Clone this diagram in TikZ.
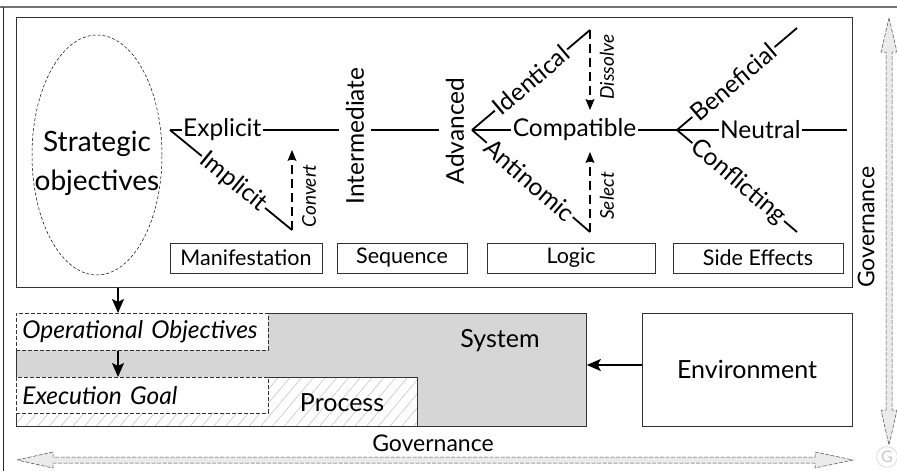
\documentclass[tikz,border=0pt]{standalone}
\usepackage{fontspec}
\setmainfont{Lato}
\usetikzlibrary{arrows.meta,patterns.meta,shapes.geometric,calc}
\newcommand{\fs}[1]{\fontsize{#1}{#1}\selectfont}
\begin{document}
\begin{tikzpicture}[x=1pt,y=-1pt,
  bone/.style={line width=1.8pt},
  lbl/.style={fill=white, inner sep=1.5pt, font=\fs{24.5}},
  vlbl/.style={rotate=90, inner sep=7pt, font=\fs{24.5}},
  hint/.style={rotate=90, inner sep=1pt, font=\fs{19}\itshape},
  conv/.style={line width=1.2pt, dash pattern=on 9pt off 5pt,
    -{Stealth[length=11pt,width=9pt,inset=2pt]}},
  flow/.style={line width=1.8pt, -{Stealth[length=14pt,width=12pt,inset=3pt]}},
  catbox/.style={draw=black!80, line width=0.8pt, minimum height=30pt,
    inner sep=0pt, font=\fs{21.5}},
  plain/.style={draw=black!80, line width=0.8pt, inner sep=0pt},
  goalbox/.style={draw=black!80, fill=white, line width=0.7pt,
    dash pattern=on 4pt off 2pt, inner sep=6pt, align=left,
    font=\fs{24.5}\itshape, anchor=north west},
  govarrow/.style={fill=black!8, draw=black!70, line width=0.5pt,
    dash pattern=on 4pt off 1.5pt},
]
\useasboundingbox (0,0) rectangle (897,471);

% cropped page frame
\draw[black!55, line width=1.2pt] (0,7) -- (897,7);
\draw[black!85, line width=0.9pt] (3,7) -- (3,471);

% upper panel
\node[plain, minimum width=836pt, minimum height=270pt, anchor=north west]
  (top) at (16,17) {};
\node[draw, ellipse, line width=0.5pt, dash pattern=on 3pt off 2pt,
  minimum width=130pt, minimum height=240pt, inner sep=0pt] (so) at (97,155) {};
\node[align=center, inner sep=0pt, font={\fontsize{28}{39}\selectfont}]
  (sotxt) at ([yshift=-8pt]so.center) {Strategic\\objectives};

% manifestation branch
\coordinate (v1) at (170,130);
\coordinate (imp) at (292,230);
\coordinate (convtip) at (292,150);
\node[vlbl] (inter) at (355,136) {Intermediate};
\node[vlbl] (adv) at (455,131) {Advanced};
\draw[bone] (v1) -- node[lbl, pos=0.31] {Explicit} (inter.north |- v1);
\draw[bone] (v1) -- node[lbl, sloped, pos=0.52] {Implicit} (imp);
\draw[conv] (imp) -- (convtip);
\node[hint] (convlbl) at (309,196) {Convert};
\draw[bone] (inter.south |- v1) -- (adv.north |- v1);

% logic branch
\coordinate (v2) at (472,130);
\coordinate (ide) at (590,30);
\coordinate (ant) at (590,232);
\coordinate (dtip) at (590,110);
\coordinate (stip) at (590,152);
\coordinate (v3) at (677,130);
\draw[bone] (v2) -- node[lbl, sloped, pos=0.5] {Identical} (ide);
\draw[bone] (v2) -- node[lbl, pos=0.5] {Compatible} (v3);
\draw[bone] (v2) -- node[lbl, sloped, pos=0.49] {Antinomic} (ant);
\draw[conv] (ide) -- (dtip);
\draw[conv] (ant) -- (stip);
\node[hint] (dislbl) at (607,67) {Dissolve};
\node[hint] (sellbl) at (607,196) {Select};

% side-effect branch
\coordinate (ben) at (797,28);
\coordinate (neu) at (847,130);
\coordinate (con) at (797,232);
\draw[bone] (v3) -- node[lbl, sloped, pos=0.47] {Beneficial} (ben);
\draw[bone] (v3) -- node[lbl, pos=0.49] {Neutral} (neu);
\draw[bone] (v3) -- node[lbl, sloped, pos=0.51] {Conflicting} (con);

% category labels
\node[catbox, minimum width=152pt] (man) at (246,258) {Manifestation};
\node[catbox, minimum width=130pt] (seq) at (402,258) {Sequence};
\node[catbox, minimum width=168pt] (log) at (571,258) {Logic};
\node[catbox, minimum width=170pt] (side) at (758,258) {Side Effects};

% lower panel
\node[plain, fill=black!16, minimum width=570pt, minimum height=113pt,
  anchor=north west] (sys) at (16,313) {};
\node[font=\fs{25}] (systxt) at (500,341) {System};
\node[plain, fill=white, minimum width=401pt, minimum height=49pt,
  anchor=north west] (proc) at (16,377) {};
\fill[pattern={Lines[angle=50, distance=9pt, line width=0.5pt]},
  pattern color=black!25] (proc.south west) rectangle (proc.north east);
\draw[black!80, line width=0.8pt] (proc.south west) rectangle (proc.north east);
\node[font=\fs{25}] (proctxt) at (342,403) {Process};
\node[goalbox, text width=240pt, minimum height=37pt] (ops) at (16,313)
  {Operational Objectives};
\node[goalbox, text width=240pt, minimum height=36pt] (exec) at (16,377)
  {Execution Goal};
\node[plain, minimum width=210pt, minimum height=113pt, font=\fs{25}]
  (env) at (747,369.5) {Environment};

\coordinate (stem) at (118,300);
\draw[flow] (top.south -| stem) -- (ops.north -| stem);
\draw[flow] (ops.south -| stem) -- (exec.north -| stem);
\coordinate (envin) at (642,365);
\draw[flow] (envin) -- (envin -| sys.east);

% governance arrows
\node[font=\fs{23}] (govh) at (433,443) {Governance};
\draw[govarrow] (17,460) -- (53,452) -- (53,457) -- (815,457) -- (815,452)
  -- (853,460) -- (815,468) -- (815,463) -- (53,463) -- (53,468) -- cycle;
\node[font=\fs{23}, rotate=90] (govv) at (866,227) {Governance};
\draw[govarrow] (889,18) -- (897,52) -- (892,52) -- (892,410) -- (897,410)
  -- (889,445) -- (881,410) -- (886,410) -- (886,52) -- (881,52) -- cycle;

% corner mark
\node[circle, draw=black!12, line width=1pt, inner sep=1.5pt, text=black!22,
  font=\fs{16}] (mark) at (887,457) {G};
\end{tikzpicture}
\end{document}
